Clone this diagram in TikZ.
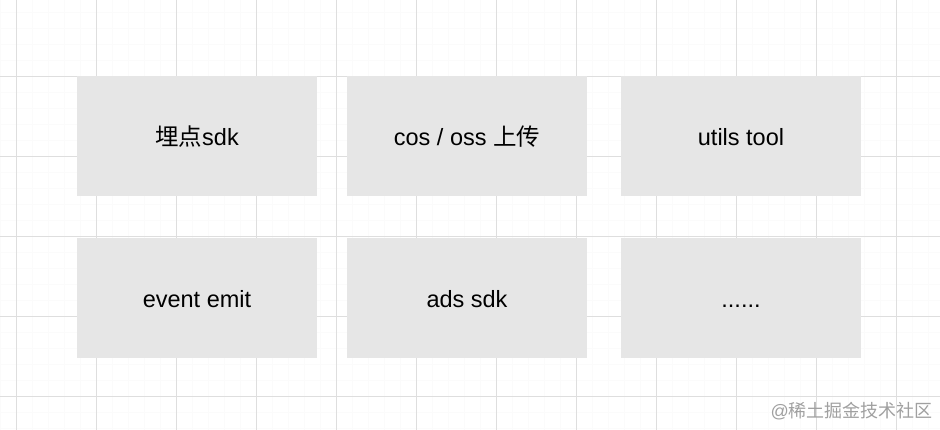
\documentclass[tikz,border=0pt]{standalone}
\usepackage{fontspec}
\setmainfont{Liberation Sans}
\newfontfamily\cjk{Noto Sans CJK SC}
\definecolor{gridmajor}{HTML}{DEDEDE}
\definecolor{gridminor}{HTML}{FBFBFB}
\definecolor{boxfill}{HTML}{E6E6E6}
\definecolor{wmark}{HTML}{A0A0A0}
\tikzset{
  modbox/.style={draw=none, fill=boxfill, minimum width=240pt, minimum height=120pt, inner sep=0pt,
    text height=23pt, text depth=4pt,
    font=\fontsize{23.5}{27}\selectfont, text=black},
}
\begin{document}
\begin{tikzpicture}[x=1pt,y=-1pt]
\fill[white] (0,0) rectangle (940,430);
\useasboundingbox (0,0) rectangle (940,430);
% minor grid
\foreach \i in {0,...,59} {\draw[gridminor, line width=0.5pt] (0.5+16*\i,0) -- (0.5+16*\i,430);}
\foreach \j in {0,...,27} {\draw[gridminor, line width=0.5pt] (0,12.5+16*\j) -- (940,12.5+16*\j);}
% major grid
\foreach \i in {0,...,11} {\draw[gridmajor, line width=1pt] (16.5+80*\i,0) -- (16.5+80*\i,430);}
\foreach \j in {0,...,5} {\draw[gridmajor, line width=1pt] (0,-3.5+80*\j) -- (940,-3.5+80*\j);}
% boxes
\node[modbox] (b1) at (197,136.5) {{\cjk 埋点}sdk};
\node[modbox] (b2) at (467,136.5) {cos / oss {\cjk 上传}};
\node[modbox] (b3) at (741,136.5) {utils tool};
\node[modbox] (b4) at (197,298.5) {event emit};
\node[modbox] (b5) at (467,298.5) {ads sdk};
\node[modbox] (b6) at (741,298.5) {......};
% watermark
\node[anchor=east, inner sep=0pt, text=wmark, font=\fontsize{18}{21}\selectfont] (wm) at (933,411) {@{\cjk 稀土掘金技术社区}};
\end{tikzpicture}
\end{document}
